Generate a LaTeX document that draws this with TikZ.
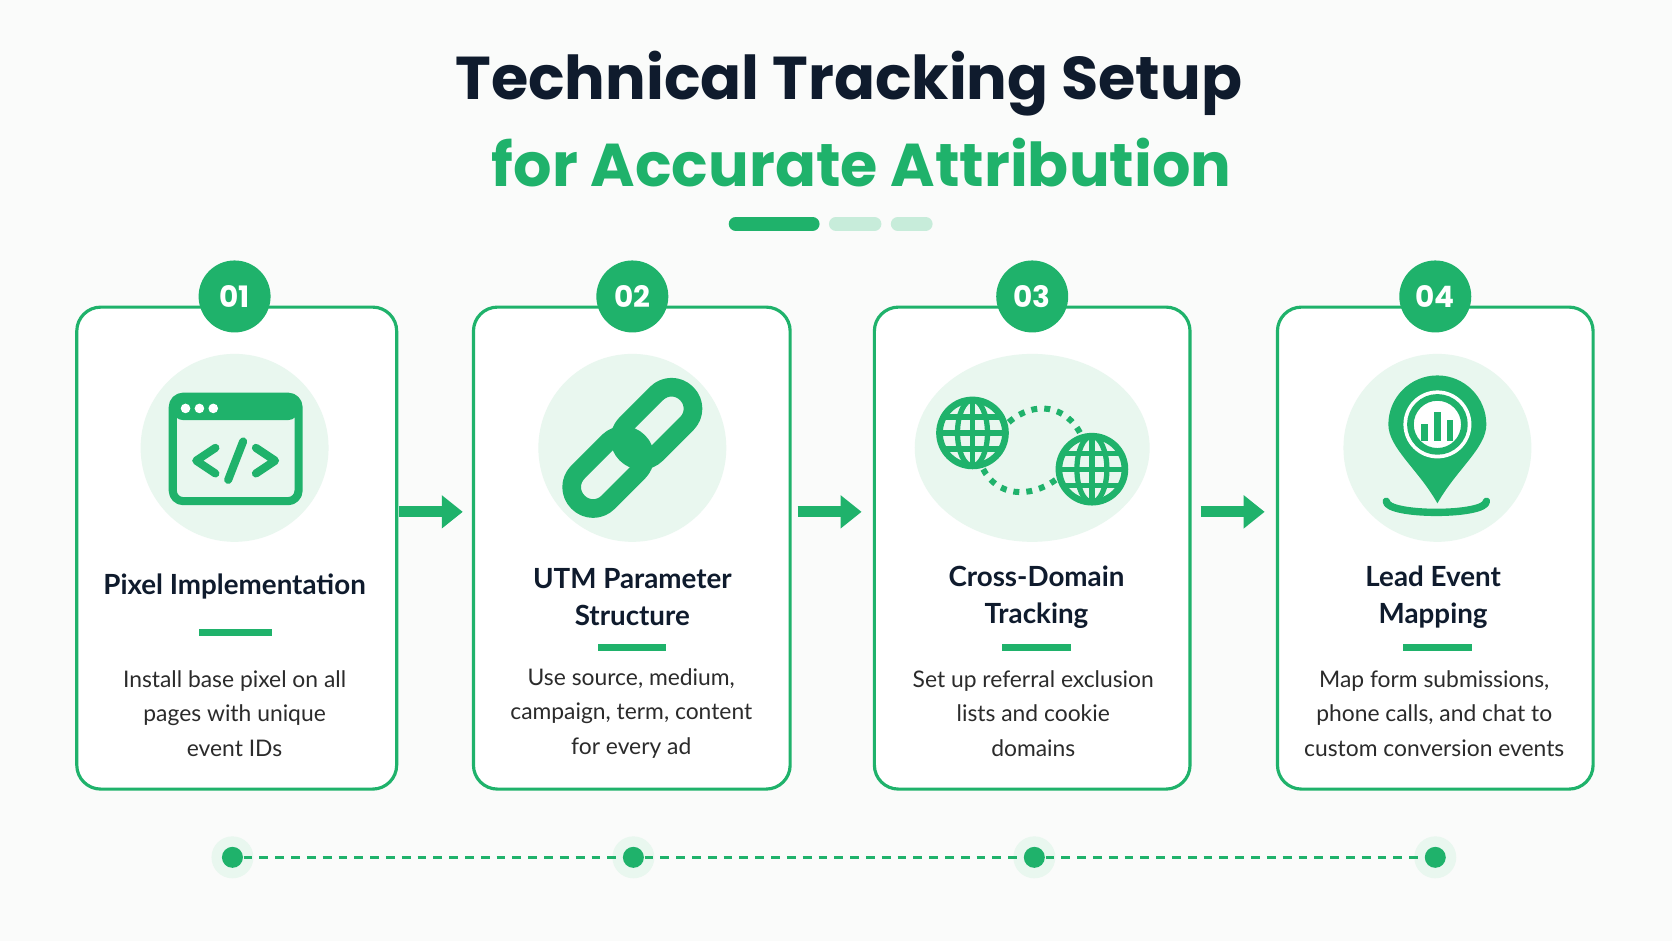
\documentclass[tikz,border=0pt]{standalone}
\usepackage{fontspec}
\setmainfont{Lato}
\newfontfamily\headfont{Poppins}
\usetikzlibrary{positioning,arrows.meta,shapes.geometric}
\definecolor{brandgreen}{HTML}{1FB26B}
\definecolor{palegreen}{HTML}{E9F7EF}
\definecolor{navy}{HTML}{0F1B2D}
\definecolor{textgray}{HTML}{2B2B2B}
\definecolor{pagebg}{HTML}{FAFBFA}

\begin{document}
\begin{tikzpicture}[x=0.01066cm, y=-0.01066cm,
  card/.style = {draw=brandgreen, line width=0.9pt, rounded corners=0.24cm, fill=white},
  badge/.style = {circle, fill=brandgreen, minimum size=0.72cm, inner sep=0pt,
                  text=white, font=\headfont\bfseries\fontsize{8.4}{8.4}\selectfont},
  iconbg/.style = {circle, fill=palegreen, minimum size=1.88cm, inner sep=0pt},
  steptitle/.style = {align=center, text=navy, font=\bfseries\fontsize{7.9}{10.3}\selectfont},
  stepbody/.style = {align=center, text=textgray, font=\fontsize{6.5}{9.8}\selectfont},
  icon/.style = {draw=brandgreen, line width=2.3pt, line cap=round, line join=round},
  flow/.style = {-{Triangle[length=0.21cm,width=0.32cm]}, draw=brandgreen, line width=3.2pt},
  dotline/.style = {draw=brandgreen, dashed, dash pattern=on 2.5pt off 2pt, line width=0.8pt}]

\fill[pagebg] (0,0) rectangle (1568,882);
\useasboundingbox (0,0) rectangle (1568,882);

%% Title
\node (title1) at (796,78) {\headfont\bfseries\fontsize{17.2}{20}\selectfont\color{navy}Technical Tracking Setup};
\node (title2) at (808,152) {\headfont\bfseries\fontsize{17.2}{20}\selectfont\color{brandgreen}for Accurate Attribution};
\draw[brandgreen, line width=4pt, line cap=round] (690,210) -- (762,210);
\draw[brandgreen!25, line width=4pt, line cap=round] (784,210) -- (820,210);
\draw[brandgreen!25, line width=4pt, line cap=round] (842,210) -- (868,210);

%% Cards
\draw[card] (72,288) rectangle (372,740);
\draw[card] (444,288) rectangle (741,740);
\draw[card] (820,288) rectangle (1116,740);
\draw[card] (1198,288) rectangle (1494,740);

\node[badge] (b1) at (220,278) {01};
\node[badge] (b2) at (593,278) {02};
\node[badge] (b3) at (968,278) {03};
\node[badge] (b4) at (1346,278) {04};

\node[iconbg] (i1) at (220,420) {};
\node[iconbg] (i2) at (593,420) {};
\node[iconbg, ellipse, minimum width=2.35cm, minimum height=1.88cm] (i3) at (968,420) {};
\node[iconbg] (i4) at (1348,420) {};

%% Icon 1: code window
\draw[icon, rounded corners=3pt] (162,372) rectangle (280,470);
\fill[brandgreen, rounded corners=3pt] (162,372) rectangle (280,394);
\foreach \x in {174,187,200}{
  \fill[white] (\x,383) circle (0.048cm);
}
\draw[icon] (202,420) -- (184,432) -- (202,444);
\draw[icon] (240,420) -- (258,432) -- (240,444);
\draw[icon] (228,414) -- (214,450);

%% Icon 2: chain link
\begin{scope}[shift={(593,420)}, rotate=-45]
  \draw[icon, line width=5.3pt, rounded corners=0.21cm] (-20,-72) rectangle (20,8);
  \draw[icon, line width=5.3pt, rounded corners=0.21cm] (-20,-8) rectangle (20,72);
\end{scope}

%% Icon 3: globes
\foreach \gx/\gy in {912/406, 1024/440}{
  \draw[icon, line width=1.9pt] (\gx,\gy) circle (0.33cm);
  \draw[icon, line width=1.5pt] (\gx,\gy) ellipse (0.15cm and 0.33cm);
  \draw[icon, line width=1.5pt] (\gx-31,\gy) -- (\gx+31,\gy);
  \draw[icon, line width=1.5pt] (\gx-27,\gy-15) -- (\gx+27,\gy-15);
  \draw[icon, line width=1.5pt] (\gx-27,\gy+15) -- (\gx+27,\gy+15);
  \draw[icon, line width=1.5pt] (\gx,\gy-31) -- (\gx,\gy+31);
}
\draw[brandgreen, line width=1.7pt, dotted] (946,396) .. controls (970,375) and (1000,380) .. (1014,408);
\draw[brandgreen, line width=1.7pt, dotted] (922,440) .. controls (935,465) and (965,468) .. (990,450);

%% Icon 4: map pin
\draw[icon, line width=2.1pt] (1300,470) .. controls (1300,484) and (1394,484) .. (1394,470);
\fill[brandgreen] (1348,472) .. controls (1330,440) and (1302,420) .. (1302,398)
  arc (180:0:0.49cm) .. controls (1394,420) and (1366,440) .. (1348,472) -- cycle;
\fill[white] (1348,398) circle (0.34cm);
\draw[icon, line width=1.9pt] (1348,398) circle (0.27cm);
\fill[brandgreen] (1333,398) rectangle (1339,414);
\fill[brandgreen] (1345,386) rectangle (1351,414);
\fill[brandgreen] (1357,394) rectangle (1363,414);

%% Texts
\node[steptitle] (t1) at (220,550) {Pixel Implementation};
\node[steptitle] (t2) at (593,560) {UTM Parameter\\Structure};
\node[steptitle] (t3) at (972,560) {Cross-Domain\\Tracking};
\node[steptitle] (t4) at (1344,560) {Lead Event\\Mapping};

\draw[brandgreen, line width=2.1pt] (187,593) -- (255,593);
\draw[brandgreen, line width=2.1pt] (561,607) -- (625,607);
\draw[brandgreen, line width=2.1pt] (940,607) -- (1004,607);
\draw[brandgreen, line width=2.1pt] (1316,607) -- (1380,607);

\node[stepbody] (d1) at (220,669) {Install base pixel on all\\pages with unique\\event IDs};
\node[stepbody] (d2) at (592,669) {Use source, medium,\\campaign, term, content\\for every ad};
\node[stepbody] (d3) at (969,669) {Set up referral exclusion\\lists and cookie\\domains};
\node[stepbody] (d4) at (1345,669) {Map form submissions,\\phone calls, and chat to\\custom conversion events};

%% Arrows between cards
\coordinate (a1s) at (374,480); \coordinate (a1e) at (434,480);
\coordinate (a2s) at (748,480); \coordinate (a2e) at (808,480);
\coordinate (a3s) at (1126,480); \coordinate (a3e) at (1186,480);
\draw[flow] (a1s) -- (a1e);
\draw[flow] (a2s) -- (a2e);
\draw[flow] (a3s) -- (a3e);

%% Timeline
\foreach \n/\x in {1/218, 2/594, 3/970, 4/1346}{
  \fill[palegreen] (\x,804) circle (0.21cm);
  \node[circle, fill=brandgreen, minimum size=0.21cm, inner sep=0pt] (p\n) at (\x,804) {};
}
\draw[dotline] (p1) -- (p2);
\draw[dotline] (p2) -- (p3);
\draw[dotline] (p3) -- (p4);

\end{tikzpicture}
\end{document}
